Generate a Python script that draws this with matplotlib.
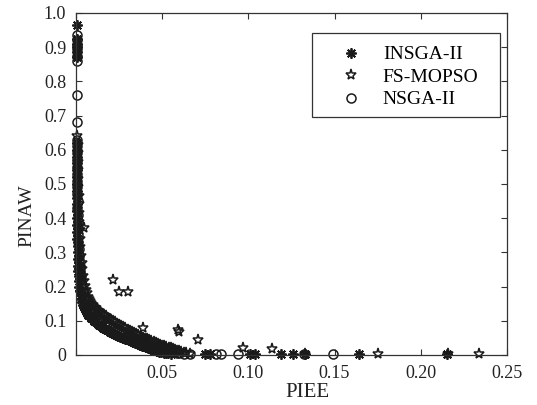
import matplotlib
matplotlib.use("Agg")
import matplotlib.pyplot as plt
from matplotlib.patches import Rectangle
import numpy as np

plt.rcParams['font.family'] = ['Liberation Serif', 'DejaVu Serif']

# INSGA-II front (PIEE, PINAW)
insga = [
    (0.0005, 0.965), (0.0004, 0.925), (0.0005, 0.91), (0.0006, 0.90),
    (0.0005, 0.885), (0.0004, 0.87),
    (0.0003, 0.62), (0.0004, 0.60), (0.0003, 0.58), (0.0005, 0.56),
    (0.0004, 0.54), (0.0005, 0.52), (0.0004, 0.50), (0.0006, 0.48),
    (0.0005, 0.46), (0.0006, 0.44), (0.0006, 0.42), (0.0007, 0.40),
    (0.0007, 0.38), (0.0008, 0.36), (0.0008, 0.34), (0.0009, 0.32),
    (0.0010, 0.30), (0.0011, 0.28), (0.0012, 0.26), (0.0014, 0.245),
    (0.0015, 0.23), (0.0018, 0.215), (0.0020, 0.20), (0.0024, 0.187),
    (0.0027, 0.175), (0.0031, 0.165), (0.0035, 0.155), (0.0040, 0.147),
    (0.0045, 0.14), (0.0051, 0.134), (0.0058, 0.128), (0.0065, 0.123),
    (0.0072, 0.118), (0.0080, 0.113), (0.0088, 0.108), (0.0096, 0.104),
    (0.0105, 0.100), (0.0115, 0.096), (0.0125, 0.092), (0.0136, 0.088),
    (0.0147, 0.084), (0.0158, 0.080), (0.0170, 0.076), (0.0182, 0.072),
    (0.0195, 0.068), (0.0208, 0.064), (0.0220, 0.061), (0.0232, 0.058),
    (0.0245, 0.055), (0.0258, 0.052), (0.0270, 0.050), (0.0283, 0.048),
    (0.0295, 0.046), (0.0308, 0.044), (0.0320, 0.042), (0.0332, 0.039),
    (0.0345, 0.036), (0.0358, 0.033), (0.0370, 0.030), (0.0383, 0.027),
    (0.0395, 0.025), (0.0408, 0.022), (0.0420, 0.020), (0.0433, 0.018),
    (0.0445, 0.016), (0.0458, 0.014), (0.0470, 0.012), (0.0483, 0.010),
    (0.0495, 0.009), (0.0508, 0.007), (0.0520, 0.006), (0.0535, 0.005),
    (0.0550, 0.004), (0.075, 0.003), (0.078, 0.003), (0.101, 0.003),
    (0.104, 0.003), (0.119, 0.003), (0.126, 0.003), (0.133, 0.003),
    (0.164, 0.003), (0.215, 0.003),
]

# FS-MOPSO front
fsmopso = [
    (0.0008, 0.64), (0.0009, 0.615), (0.0010, 0.59), (0.0011, 0.565),
    (0.0012, 0.54), (0.0013, 0.515), (0.0014, 0.49), (0.0015, 0.465),
    (0.0016, 0.44), (0.0018, 0.415), (0.0020, 0.39), (0.0022, 0.365),
    (0.0024, 0.34), (0.0026, 0.315), (0.0029, 0.29), (0.0032, 0.27),
    (0.0035, 0.25), (0.0040, 0.232), (0.0046, 0.215), (0.0051, 0.202),
    (0.0056, 0.19), (0.0062, 0.18), (0.0068, 0.17), (0.0075, 0.163),
    (0.0082, 0.157), (0.0090, 0.151), (0.0098, 0.146), (0.0106, 0.141),
    (0.0115, 0.137), (0.0124, 0.132), (0.0133, 0.128), (0.0142, 0.124),
    (0.0152, 0.120), (0.0162, 0.116), (0.0172, 0.113), (0.0182, 0.109),
    (0.0193, 0.106), (0.0204, 0.102), (0.0215, 0.099), (0.0226, 0.095),
    (0.0238, 0.092), (0.0250, 0.088), (0.0262, 0.085), (0.0275, 0.081),
    (0.0287, 0.078), (0.0300, 0.074), (0.0312, 0.071), (0.0325, 0.067),
    (0.0337, 0.064), (0.0350, 0.060), (0.0362, 0.057), (0.0375, 0.054),
    (0.0387, 0.051), (0.0400, 0.048), (0.0412, 0.046), (0.0425, 0.043),
    (0.0437, 0.041), (0.0450, 0.038), (0.0462, 0.035), (0.0475, 0.032),
    (0.0487, 0.030), (0.0500, 0.027), (0.0512, 0.025), (0.0525, 0.023),
    (0.0537, 0.021), (0.0550, 0.019), (0.0562, 0.017), (0.0575, 0.015),
    (0.0587, 0.013), (0.0600, 0.011), (0.0612, 0.009), (0.0625, 0.007),
    (0.0637, 0.006), (0.0660, 0.004),
    (0.0045, 0.37), (0.0215, 0.22), (0.025, 0.185), (0.030, 0.184),
    (0.039, 0.079), (0.059, 0.073), (0.060, 0.066), (0.071, 0.044),
    (0.097, 0.020), (0.114, 0.017), (0.133, 0.004), (0.175, 0.003),
    (0.216, 0.003), (0.234, 0.003),
]

# NSGA-II front
nsga = [
    (0.0006, 0.935), (0.0005, 0.92), (0.0007, 0.905), (0.0006, 0.895),
    (0.0005, 0.875), (0.0007, 0.86), (0.0008, 0.76), (0.0007, 0.68),
    (0.0005, 0.63), (0.0006, 0.61), (0.0005, 0.59), (0.0007, 0.57),
    (0.0006, 0.55), (0.0007, 0.53), (0.0006, 0.51), (0.0008, 0.49),
    (0.0007, 0.47), (0.0009, 0.45), (0.0008, 0.43), (0.0010, 0.41),
    (0.0010, 0.39), (0.0011, 0.37), (0.0012, 0.35), (0.0013, 0.33),
    (0.0015, 0.31), (0.0017, 0.29), (0.0019, 0.275), (0.0021, 0.26),
    (0.0024, 0.245), (0.0027, 0.23), (0.0030, 0.218), (0.0035, 0.205),
    (0.0040, 0.193), (0.0046, 0.18), (0.0053, 0.168), (0.0059, 0.159),
    (0.0065, 0.15), (0.0072, 0.143), (0.0080, 0.137), (0.0088, 0.131),
    (0.0097, 0.125), (0.0106, 0.120), (0.0115, 0.116), (0.0125, 0.111),
    (0.0135, 0.107), (0.0145, 0.104), (0.0155, 0.101), (0.0166, 0.097),
    (0.0178, 0.094), (0.0189, 0.090), (0.0200, 0.087), (0.0212, 0.083),
    (0.0225, 0.080), (0.0237, 0.076), (0.0250, 0.073), (0.0262, 0.069),
    (0.0275, 0.066), (0.0287, 0.063), (0.0300, 0.060), (0.0312, 0.057),
    (0.0325, 0.054), (0.0337, 0.051), (0.0350, 0.049), (0.0362, 0.046),
    (0.0375, 0.044), (0.0387, 0.041), (0.0400, 0.038), (0.0412, 0.035),
    (0.0425, 0.032), (0.0437, 0.030), (0.0450, 0.027), (0.0462, 0.024),
    (0.0475, 0.022), (0.0487, 0.020), (0.0500, 0.018), (0.0512, 0.016),
    (0.0525, 0.015), (0.0537, 0.013), (0.0550, 0.011), (0.0562, 0.009),
    (0.0575, 0.008), (0.0587, 0.007), (0.0600, 0.006), (0.0625, 0.004),
    (0.066, 0.003), (0.081, 0.003), (0.084, 0.003), (0.094, 0.003),
    (0.132, 0.003), (0.149, 0.003),
]

xticks = [0, 0.05, 0.10, 0.15, 0.20, 0.25]
xticklabels = ['', '0.05', '0.10', '0.15', '0.20', '0.25']
yticks = [0, 0.1, 0.2, 0.3, 0.4, 0.5, 0.6, 0.7, 0.8, 0.9, 1.0]
yticklabels = ['0', '0.1', '0.2', '0.3', '0.4', '0.5', '0.6', '0.7', '0.8', '0.9', '1.0']

ink = '#1a1a1a'

fig = plt.figure(figsize=(5.37, 4.05), dpi=100)
ax = fig.add_axes([0.1415, 0.1235, 0.8025, 0.8445])

a = np.array(insga)
ax.plot(a[:, 0], a[:, 1], linestyle='none', marker=(8, 2, 0), markersize=7.5,
        markeredgewidth=1.3, color=ink, label='INSGA-II', clip_on=False)
a = np.array(fsmopso)
ax.plot(a[:, 0], a[:, 1], linestyle='none', marker='*', markersize=8,
        markerfacecolor='none', markeredgewidth=1.1, color=ink, label='FS-MOPSO',
        clip_on=False)
a = np.array(nsga)
ax.plot(a[:, 0], a[:, 1], linestyle='none', marker='o', markersize=6.5,
        markerfacecolor='none', markeredgewidth=1.1, color=ink, label='NSGA-II',
        clip_on=False)

ax.set_xlim(0, 0.25)
ax.set_ylim(0, 1.0)
ax.set_xticks(xticks)
ax.set_xticklabels(xticklabels)
ax.set_yticks(yticks)
ax.set_yticklabels(yticklabels)
ax.tick_params(direction='in', length=4, width=0.8, top=True, right=True,
               labelsize=13, colors='#333333', labelcolor='#222222')
ax.tick_params(axis='y', pad=7)
ax.tick_params(axis='x', pad=7)
for s in ax.spines.values():
    s.set_linewidth(0.9)
    s.set_color('#333333')

ax.set_xlabel('PIEE', fontsize=15, color='#222222')
ax.set_ylabel('PINAW', fontsize=14, color='#222222')
ax.xaxis.set_label_coords(0.536, -0.082)
ax.yaxis.set_label_coords(-0.095, 0.406)

# legend box drawn separately so its padding can match the original
ax.add_patch(Rectangle((0.5476, 0.696), 0.4362, 0.2455, transform=ax.transAxes,
                       facecolor='white', edgecolor='#333333', linewidth=0.9, zorder=4))
leg = ax.legend(loc='upper left', bbox_to_anchor=(0.615, 0.904), borderaxespad=0,
                borderpad=0, frameon=False, fontsize=14, labelspacing=0.25,
                handlelength=1.0, handletextpad=1.15)
leg.set_zorder(5)

fig.savefig('out.png', dpi=100)
